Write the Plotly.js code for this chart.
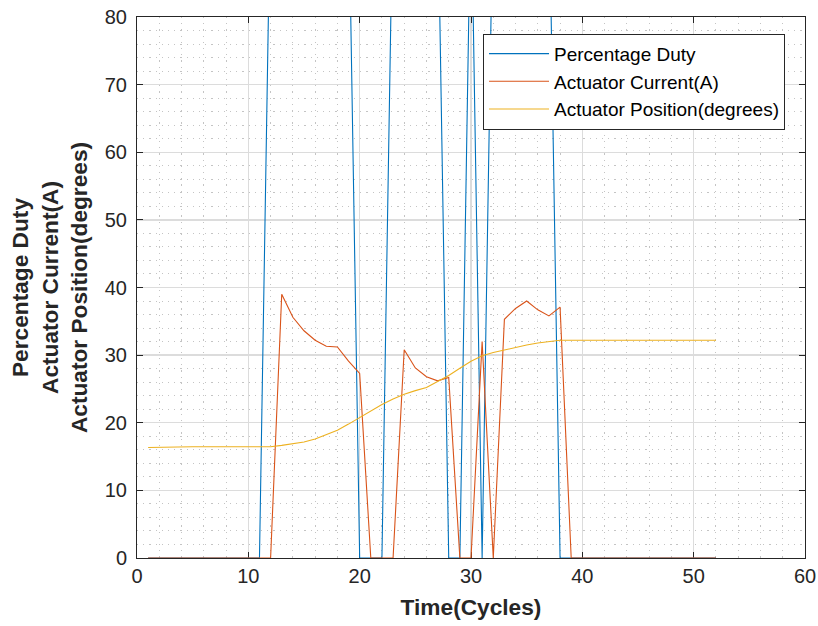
<!DOCTYPE html>
<html>
<head>
<meta charset="utf-8">
<script src="https://cdn.plot.ly/plotly-3.0.1.min.js"></script>
<style>html,body{margin:0;padding:0;background:#fff;}#chart{width:818px;height:626px;}</style>
</head>
<body>
<div id="chart"></div>
<script>
var time = [1,2,3,4,5,6,7,8,9,10,11,12,13,14,15,16,17,18,19,20,21,22,23,24,25,26,27,28,29,30,31,32,33,34,35,36,37,38,39,40,41,42,43,44,45,46,47,48,49,50,51,52];
var dutyPct = [0,0,0,0,0,0,0,0,0,0,0,100,100,100,100,100,100,100,100,0,0,0,100,100,100,100,100,0,0,100,0,100,100,100,100,100,100,0,0,0,0,0,0,0,0,0,0,0,0,0,0,0];
var currentA = [0,0,0,0,0,0,0,0,0,0,0,0,39.0,35.6,33.6,32.2,31.3,31.2,29.1,27.3,0,0,0,30.8,28.1,26.8,26.2,26.7,0,0,32.0,0,35.3,36.9,38.0,36.7,35.8,37.1,0,0,0,0,0,0,0,0,0,0,0,0,0,0];
var positionDeg = [16.35,16.4,16.4,16.45,16.45,16.45,16.45,16.45,16.45,16.4,16.4,16.45,16.65,16.85,17.15,17.6,18.2,18.9,19.8,20.75,21.8,22.7,23.5,24.2,24.75,25.2,26.1,27.0,28.05,29.1,29.9,30.4,30.75,31.15,31.5,31.8,32.05,32.2,32.2,32.2,32.2,32.2,32.2,32.2,32.2,32.2,32.2,32.2,32.2,32.2,32.2,32.2];
var seriesNames = ['Percentage Duty','Actuator Current(A)','Actuator Position(degrees)'];
var xTicks = [0,10,20,30,40,50,60];
var yTicks = [0,10,20,30,40,50,60,70,80];

var colors = ['#0072BD','#D95319','#EDB120'];
var font = 'Liberation Sans, Arial, Helvetica, sans-serif';
var traces = [dutyPct, currentA, positionDeg].map(function(v,i){
  return {x: time, y: v, type:'scatter', mode:'lines', name: seriesNames[i],
          line:{color: colors[i], width:1.1}};
});
var axisCommon = {
  showline:true, linecolor:'#262626', linewidth:1, mirror:'ticks',
  ticks:'inside', ticklen:6, tickcolor:'#262626', tickwidth:1,
  showgrid:true, gridcolor:'#dcdcdc', gridwidth:1.3,
  zeroline:false, layer:'below traces',
  tickfont:{family:font, size:20, color:'#262626'},
  minor:{dtick:2, showgrid:true, gridcolor:'#c4c4c4', griddash:'1.2px,5px', gridwidth:1, ticks:''}
};
var layout = {
  width:818, height:626,
  margin:{l:137, r:13, t:17, b:68},
  paper_bgcolor:'#fff', plot_bgcolor:'#fff',
  font:{family:font, color:'#262626'},
  showlegend:true,
  legend:{x:0.518, y:0.969, xanchor:'left', yanchor:'top',
          bgcolor:'#fff', bordercolor:'#262626', borderwidth:1,
          font:{family:font, size:19, color:'#000'}, itemwidth:60,
          tracegroupgap:0},
  xaxis: Object.assign({}, axisCommon, {
    range:[0,60], tickvals:xTicks, ticktext:xTicks.map(String),
    title:{text:'<b>Time(Cycles)</b>', font:{family:font, size:22.7, color:'#262626'}, standoff:13}
  }),
  yaxis: Object.assign({}, axisCommon, {
    range:[0,80], tickvals:yTicks, ticktext:yTicks.map(String), ticklabelstandoff:5,
    title:{text:'<b>Percentage Duty<br>Actuator Current(A)<br>Actuator Position(degrees)</b>', font:{family:font, size:22.7, color:'#262626'}, standoff:10}
  })
};
Plotly.newPlot('chart', traces, layout, {displayModeBar:false, staticPlot:true});
</script>
</body>
</html>
